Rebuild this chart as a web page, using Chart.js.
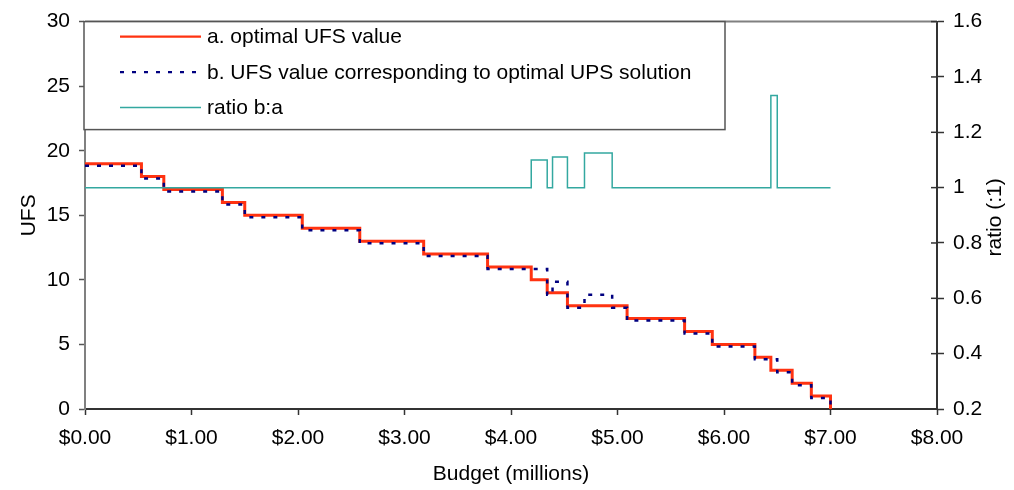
<!DOCTYPE html>
<html>
<head>
<meta charset="utf-8">
<script src="https://cdn.jsdelivr.net/npm/chart.js@4"></script>
<style>
  html, body { margin: 0; padding: 0; background: #fff; }
  #wrap { width: 1014px; height: 490px; }
</style>
</head>
<body>
<div id="wrap"><canvas id="chart" width="1014" height="490"></canvas></div>
<script>
// budget breakpoints ($ millions) and the value that holds from each one
const optimalBudget = [0, 0.53, 0.74, 1.29, 1.50, 2.04, 2.58, 3.18, 3.78, 4.19, 4.34, 4.53, 5.09, 5.63, 5.89, 6.29, 6.44, 6.64, 6.82, 7.00];
const optimalUFS    = [19, 18, 17, 16, 15, 14, 13, 12, 11, 10, 9, 8, 7, 6, 5, 4, 3, 2, 1, 0];

const upsBudget = [0, 0.53, 0.74, 1.29, 1.50, 2.04, 2.58, 3.18, 3.78, 4.34, 4.39, 4.53, 4.69, 4.95, 5.09, 5.63, 5.89, 6.29, 6.50, 6.64, 6.82, 7.00];
const upsUFS    = [19, 18, 17, 16, 15, 14, 13, 12, 11, 9, 10, 8, 9, 8, 7, 6, 5, 4, 3, 2, 1, 0];

const ratioBudget = [0, 4.19, 4.34, 4.39, 4.53, 4.69, 4.95, 6.44, 6.50, 7.00];
const ratioValues = [1, 1.1, 1, 1.111, 1, 1.125, 1, 1.333, 1, 1];

const budgetTicks = [0, 1, 2, 3, 4, 5, 6, 7, 8];
const ufsTicks = [0, 5, 10, 15, 20, 25, 30];
const ratioTicks = [0.2, 0.4, 0.6, 0.8, 1, 1.2, 1.4, 1.6];

const FONT = '"Liberation Sans", Arial, sans-serif';
Chart.defaults.font.family = FONT;
Chart.defaults.font.size = 21;
Chart.defaults.color = '#000';

const toPoints = (xs, ys) => xs.map((x, i) => ({ x, y: ys[i] }));
const setTicks = list => scale => { scale.ticks = list.map(v => ({ value: v })); };

// blue series sits a couple of pixels under the red one, like the original
const offsetBlue = {
    id: 'offsetBlue',
    beforeDatasetDraw(chart, args) {
        if (args.index === 1) { chart.ctx.save(); chart.ctx.translate(0, 2); }
    },
    afterDatasetDraw(chart, args) {
        if (args.index === 1) chart.ctx.restore();
    }
};

const frame = {
    id: 'frame',
    afterDraw(chart) {
        const { ctx, chartArea: a } = chart;
        const r = chart.scales.y1;
        ctx.save();
        ctx.strokeStyle = '#808080';
        ctx.lineWidth = 2;
        ctx.beginPath();
        ctx.moveTo(a.left, a.top);
        ctx.lineTo(a.right, a.top);
        ctx.stroke();
        // right axis ticks cross the axis line
        ctx.strokeStyle = '#333';
        ctx.lineWidth = 1.5;
        r.ticks.forEach(t => {
            const py = r.getPixelForValue(t.value);
            ctx.beginPath();
            ctx.moveTo(a.right - 6, py);
            ctx.lineTo(a.right, py);
            ctx.stroke();
        });
        // right axis title reads bottom to top
        ctx.translate(995, (a.top + a.bottom) / 2 + 2);
        ctx.rotate(-Math.PI / 2);
        ctx.font = '21px ' + FONT;
        ctx.fillStyle = '#000';
        ctx.textAlign = 'center';
        ctx.textBaseline = 'middle';
        ctx.fillText('ratio (:1)', 0, 0);
        ctx.restore();
    }
};

const legendBox = {
    id: 'legendBox',
    afterDraw(chart) {
        const { ctx, chartArea: a } = chart;
        const x = a.left - 1, y = a.top, w = 641, h = 108;
        ctx.save();
        ctx.fillStyle = '#fff';
        ctx.fillRect(x, y, w, h);
        ctx.strokeStyle = '#555';
        ctx.lineWidth = 1.5;
        ctx.strokeRect(x, y, w, h);
        ctx.font = '21px ' + FONT;
        ctx.textBaseline = 'middle';
        ctx.fillStyle = '#000';
        chart.data.datasets.forEach((ds, i) => {
            const ry = y + 15 + i * 35.5;
            ctx.beginPath();
            ctx.strokeStyle = ds.borderColor;
            ctx.lineWidth = i === 2 ? 1.5 : 2.2;
            ctx.setLineDash(ds.borderDash || []);
            ctx.moveTo(x + 36, ry);
            ctx.lineTo(x + 117, ry);
            ctx.stroke();
            ctx.setLineDash([]);
            ctx.fillText(ds.label, x + 123, ry + 1);
        });
        ctx.restore();
    }
};

new Chart(document.getElementById('chart'), {
    type: 'line',
    data: {
        datasets: [
            {
                label: 'a. optimal UFS value',
                data: toPoints(optimalBudget, optimalUFS),
                borderColor: '#ff3311',
                borderWidth: 3,
                stepped: true,
                pointRadius: 0,
                yAxisID: 'y',
                order: 2
            },
            {
                label: 'b. UFS value corresponding to optimal UPS solution',
                data: toPoints(upsBudget, upsUFS),
                borderColor: '#000080',
                borderWidth: 2.5,
                borderDash: [4, 8],
                stepped: true,
                pointRadius: 0,
                yAxisID: 'y',
                order: 1
            },
            {
                label: 'ratio b:a',
                data: toPoints(ratioBudget, ratioValues),
                borderColor: '#33a8a0',
                borderWidth: 1.5,
                stepped: true,
                pointRadius: 0,
                yAxisID: 'y1',
                order: 0
            }
        ]
    },
    options: {
        responsive: false,
        animation: false,
        layout: { padding: { top: 19, left: 0, right: 0, bottom: 0 } },
        plugins: {
            legend: { display: false },
            tooltip: { enabled: false }
        },
        scales: {
            x: {
                type: 'linear',
                min: 0,
                max: 8,
                afterBuildTicks: setTicks(budgetTicks),
                afterFit: s => { s.height = 81; },
                ticks: { padding: 11, callback: v => '$' + v.toFixed(2) },
                grid: { drawOnChartArea: false, tickLength: 6, color: '#333', tickWidth: 1.5 },
                border: { color: '#333', width: 2 },
                title: { display: true, text: 'Budget (millions)', padding: { top: 0, bottom: 3 } }
            },
            y: {
                position: 'left',
                min: 0,
                max: 30,
                afterBuildTicks: setTicks(ufsTicks),
                afterFit: s => { s.width = 85; },
                ticks: { padding: 9 },
                grid: { drawOnChartArea: false, tickLength: 6, color: '#555', tickWidth: 1.5 },
                border: { color: '#808080', width: 2 },
                title: { display: true, text: 'UFS', padding: { top: 17, bottom: 0 } }
            },
            y1: {
                position: 'right',
                min: 0.2,
                max: 1.6,
                afterBuildTicks: setTicks(ratioTicks),
                afterFit: s => { s.width = 77; },
                ticks: { padding: 9, callback: v => String(parseFloat(v.toFixed(1))) },
                grid: { drawOnChartArea: false, tickLength: 7, color: '#333', tickWidth: 1.5 },
                border: { color: '#333', width: 2 },
                title: { display: false }
            }
        }
    },
    plugins: [offsetBlue, frame, legendBox]
});
</script>
</body>
</html>
